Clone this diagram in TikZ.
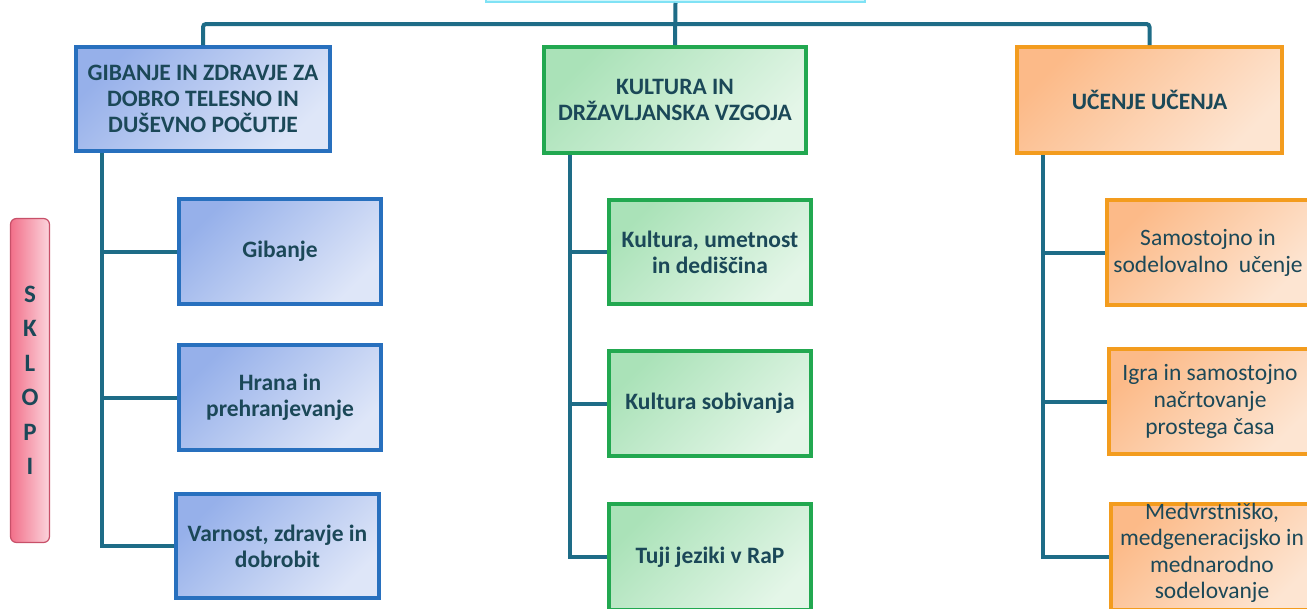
\documentclass[tikz,border=0pt]{standalone}
\usepackage{fontspec}
\setmainfont{Carlito}
\definecolor{conn}{RGB}{30,108,135}
\definecolor{txt}{RGB}{27,72,88}
\definecolor{bB}{RGB}{40,112,190}
\definecolor{bA}{RGB}{150,176,234}
\definecolor{bC}{RGB}{222,230,248}
\definecolor{gB}{RGB}{34,168,80}
\definecolor{gA}{RGB}{170,226,184}
\definecolor{gC}{RGB}{228,246,232}
\definecolor{oB}{RGB}{243,156,30}
\definecolor{oA}{RGB}{252,186,136}
\definecolor{oC}{RGB}{253,229,210}
\definecolor{pB}{RGB}{200,80,105}
\definecolor{pA}{RGB}{242,112,138}
\definecolor{pC}{RGB}{251,212,220}
\definecolor{cB}{RGB}{128,226,245}
\definecolor{cA}{RGB}{205,246,252}
\tikzset{
  conn/.style={draw=conn, line width=4pt},
  box/.style={draw, line width=4pt, align=center, text=txt, inner sep=1pt},
  bluebox/.style={box, draw=bB, top color=bA, bottom color=bC, shading angle=45},
  greenbox/.style={box, draw=gB, top color=gA, bottom color=gC, shading angle=45},
  orangebox/.style={box, draw=oB, top color=oA, bottom color=oC, shading angle=45},
  hdr/.style={font=\fontsize{23.5}{26}\selectfont\bfseries},
  sub/.style={font=\fontsize{23.5}{26}\selectfont\bfseries},
  osub/.style={font=\fontsize{23.5}{27}\selectfont},
}
\begin{document}
\begin{tikzpicture}[x=1pt,y=-1pt]
\useasboundingbox[fill=white] (0,0) rectangle (1307,608);
% top box
\node[draw=cB, line width=2pt, fill=cA, minimum width=379pt, minimum height=41pt] (top) at (675.5,-18.5) {};
% headers
\node[bluebox, hdr, minimum width=254pt, minimum height=104pt] (bh) at (203,99) {GIBANJE IN ZDRAVJE ZA\\DOBRO TELESNO IN\\DUŠEVNO POČUTJE};
\node[greenbox, hdr, minimum width=262pt, minimum height=106pt] (gh) at (675,100) {KULTURA IN\\DRŽAVLJANSKA VZGOJA};
\node[orangebox, hdr, minimum width=265pt, minimum height=106pt] (oh) at (1149.5,100) {UČENJE UČENJA};
% blue children
\node[bluebox, sub, minimum width=202pt, minimum height=105pt] (b1) at (280,251.5) {Gibanje};
\node[bluebox, sub, minimum width=202pt, minimum height=105pt] (b2) at (280,397.5) {Hrana in\\prehranjevanje};
\node[bluebox, sub, minimum width=203pt, minimum height=104pt] (b3) at (277.5,546) {Varnost, zdravje in\\dobrobit};
% green children
\node[greenbox, sub, minimum width=202pt, minimum height=104pt] (g1) at (710,252) {Kultura, umetnost\\in dediščina};
\node[greenbox, sub, minimum width=202pt, minimum height=105pt] (g2) at (710,403.5) {Kultura sobivanja};
\node[greenbox, sub, minimum width=202pt, minimum height=106pt] (g3) at (710,557) {Tuji jeziki v RaP};
% orange children
\node[orangebox, osub, minimum width=202pt, minimum height=105pt] (o1) at (1208,252.5) {Samostojno in\\sodelovalno\ \ učenje};
\node[orangebox, osub, minimum width=202pt, minimum height=105pt] (o2) at (1210,401.5) {Igra in samostojno\\načrtovanje\\prostega časa};
\node[orangebox, minimum width=202pt, minimum height=106pt] (o3) at (1212,557) {};
\node[align=center, text=txt, inner sep=0pt, font=\fontsize{23.5}{26.5}\selectfont] (o3t) at (1212,553) {Medvrstniško,\\medgeneracijsko in\\mednarodno\\sodelovanje};
% SKLOPI
\node[draw=pB, line width=1.2pt, rounded corners=6pt, left color=pA, right color=pC, minimum width=39pt, minimum height=324pt, align=center, text=txt, font=\fontsize{25}{34.5}\selectfont\bfseries] (sk) at (30,380.5) {S\\K\\L\\O\\P\\I};
% connectors
\coordinate (bus) at (675,24);
\draw[conn, rounded corners=3pt] (bh.north) |- (bus) -| (oh.north);
\draw[conn] (top.south) -- (gh.north);
\coordinate (bs) at (102,0);
\coordinate (gs) at (570,0);
\coordinate (os) at (1043,0);
\draw[conn] (bh.south -| bs) |- (b3.west);
\draw[conn] (bs |- b1.west) -- (b1.west);
\draw[conn] (bs |- b2.west) -- (b2.west);
\draw[conn] (gh.south -| gs) |- (g3.west);
\draw[conn] (gs |- g1.west) -- (g1.west);
\draw[conn] (gs |- g2.west) -- (g2.west);
\draw[conn] (oh.south -| os) |- (o3.west);
\draw[conn] (os |- o1.west) -- (o1.west);
\draw[conn] (os |- o2.west) -- (o2.west);
\end{tikzpicture}
\end{document}
